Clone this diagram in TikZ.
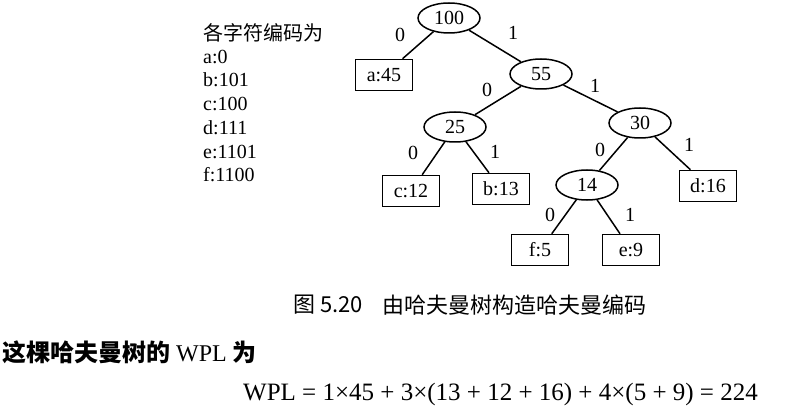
\documentclass[tikz,border=0pt]{standalone}
\usepackage{fontspec}
\setmainfont{Liberation Serif}
\newfontfamily\cjk{Noto Sans CJK SC}
\usetikzlibrary{shapes.geometric}
\begin{document}
\begin{tikzpicture}[x=1pt,y=-1pt,
  inner/.style={ellipse,draw,line width=1.5pt,minimum width=62pt,minimum height=30pt,inner sep=0pt,font=\fontsize{20}{20}\selectfont},
  leaf/.style={rectangle,draw,line width=1.5pt,minimum width=57pt,minimum height=31pt,inner sep=0pt,font=\fontsize{20}{20}\selectfont},
  bit/.style={inner sep=0pt,font=\fontsize{20}{20}\selectfont},
  edge/.style={line width=1.5pt},
  code/.style={anchor=west,inner sep=0pt,font=\fontsize{20}{20}\selectfont}]
\useasboundingbox (0,0) rectangle (789,414);
% left list
\node[code] (t0) at (203,33) {\cjk 各字符编码为};
\node[code] (t1) at (203,57) {a:0};
\node[code] (t2) at (203,80) {b:101};
\node[code] (t3) at (203,104) {c:100};
\node[code] (t4) at (203,128) {d:111};
\node[code] (t5) at (203,152) {e:1101};
\node[code] (t6) at (203,175) {f:1100};
% tree nodes
\node[inner] (n100) at (449,18) {100};
\node[leaf]  (a45)  at (384,75) {a:45};
\node[inner] (n55)  at (541,74) {55};
\node[inner] (n25)  at (455,127) {25};
\node[inner] (n30)  at (640,123) {30};
\node[leaf]  (c12)  at (411,191) {c:12};
\node[leaf]  (b13)  at (501,189) {b:13};
\node[inner] (n14)  at (587,185) {14};
\node[leaf]  (d16)  at (708,186) {d:16};
\node[leaf]  (f5)   at (540,250) {f:5};
\node[leaf]  (e9)   at (631,250) {e:9};
% edges
\draw[edge] (n100) -- (a45);
\draw[edge] (n100) -- (n55);
\draw[edge] (n55) -- (n25);
\draw[edge] (n55) -- (n30);
\draw[edge] (n25) -- (c12);
\draw[edge] (n25) -- (b13);
\draw[edge] (n30) -- (n14);
\draw[edge] (n30) -- (d16);
\draw[edge] (n14) -- (f5);
\draw[edge] (n14) -- (e9);
% edge labels
\node[bit] (l1) at (400,35) {0};
\node[bit] (l2) at (513,33) {1};
\node[bit] (l3) at (487,90) {0};
\node[bit] (l4) at (595,86) {1};
\node[bit] (l5) at (413,153) {0};
\node[bit] (l6) at (495,152) {1};
\node[bit] (l7) at (600,150) {0};
\node[bit] (l8) at (689,145) {1};
\node[bit] (l9) at (550,215) {0};
\node[bit] (l10) at (630,215) {1};
% caption and text
\node[anchor=west,inner sep=0pt,font=\cjk\fontsize{22}{22}\selectfont] (capa) at (293,305) {图 5.20};
\node[anchor=west,inner sep=0pt,font=\cjk\fontsize{22}{22}\selectfont] (capb) at (382,305) {由哈夫曼树构造哈夫曼编码};
\node[anchor=west,inner sep=0pt,font=\fontsize{24}{24}\selectfont] (sent) at (2,352) {{\cjk\bfseries 这棵哈夫曼树的} WPL {\cjk\bfseries 为}};
\node[anchor=west,inner sep=0pt,font=\fontsize{25}{25}\selectfont] (wpl) at (243,394) {WPL = 1×45 + 3×(13 + 12 + 16) + 4×(5 + 9) = 224};
\end{tikzpicture}
\end{document}
